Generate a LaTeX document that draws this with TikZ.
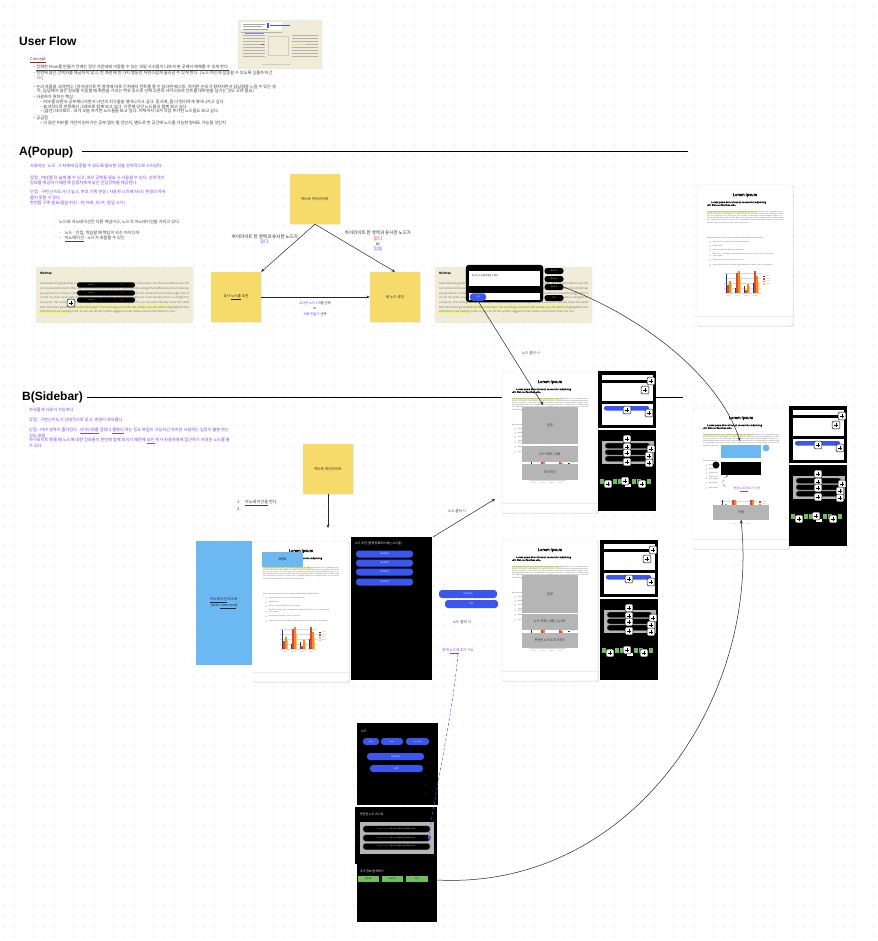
\documentclass[tikz,border=0pt]{standalone}
\usepackage{fontspec}
\setmainfont{Noto Sans CJK KR}[AutoFakeBold=2]
\newfontfamily\hdfont{Liberation Sans}
\usetikzlibrary{arrows.meta,shadows}
\definecolor{sticky}{HTML}{F7DB6A}
\definecolor{beige}{HTML}{F1ECD8}
\definecolor{purp}{HTML}{7A45E0}
\definecolor{kblue}{HTML}{3A56EC}
\definecolor{lblue}{HTML}{6CB8F2}
\definecolor{gbox}{HTML}{B5B5B5}
\definecolor{ggreen}{HTML}{6EBE5C}
\definecolor{hl}{HTML}{F2F09A}
\definecolor{kred}{HTML}{E0392B}
\definecolor{cdb}{HTML}{1F3C88}
\definecolor{cor}{HTML}{F08A24}
\definecolor{cye}{HTML}{F7C948}
\definecolor{cre}{HTML}{E1452B}
\definecolor{ctitle}{HTML}{8B2323}
\newcommand\fsz[2]{\fontsize{#1}{#2}\selectfont}
\newcommand\lipsumtxt{Lorem ipsum dolor sit amet, consectetur adipiscing elit. Nunc ac faucibus odio. Vestibulum neque massa, scelerisque sit amet ligula eu, congue molestie mi. Praesent ut varius sem. Nullam at porttitor arcu, nec lacinia nisi. Ut ac dolor vitae odio interdum condimentum. Vivamus dapibus sodales ex, vitae malesuada ipsum cursus convallis. Maecenas sed egestas nulla, ac condimentum orci. Mauris diam felis, vulputate ac suscipit et, iaculis non est. Curabitur semper arcu ac ligula semper, nec luctus nisl blandit. Integer lacinia ante ac libero lobortis imperdiet.}
\newcommand\mindtxt{Automatically generating a mindmap is crucial for me to read through the document, but the annotations are still not connected to each other, and I am still stuck just like before. If you cannot arrange them effectively, the mindmap you generate is simply a mess. On second thought, with my notes and cards still scattered around the pages, this is in fact my main issue with reading papers for a long time. So it has brought out a functionality that is a delight for everyone: the cards generate mindmaps. There are three methods by which you can automatically insert the cards that have been generated into the mindmaps. You can drag a card onto the canvas, you can select a highlighted area and link it to an existing node, or you can let the system suggest similar nodes and connect them for you.}
\tikzset{
 tx/.style={inner sep=0pt, anchor=west, font=\fsz{4.2}{5}, text=black!75},
 ptx/.style={tx, text=purp},
 stickynote/.style={fill=sticky, minimum width=50pt, minimum height=50pt, inner sep=1pt, align=center, font=\fsz{3.6}{4.6}, text=black!85, drop shadow={opacity=0.15, shadow xshift=0.5pt, shadow yshift=-0.8pt}},
 arr/.style={-{Stealth[length=3.5pt,width=2.8pt]}, line width=0.5pt, black!85},
 bpill/.style={fill=kblue, rounded corners=3pt, inner sep=0pt, font=\fsz{2}{2.5}, text=white},
 kpill/.style={fill=black, rounded corners=2.6pt, inner sep=0pt, font=\fsz{1.7}{2}, text=white},
 gpill/.style={fill=ggreen, inner sep=0pt, font=\fsz{1.8}{2}, text=black},
 dotgrid/.style={line width=1.3pt, dash pattern=on 0pt off 10pt, line cap=round, black!20},
 greybox/.style={fill=gbox, inner sep=0pt, font=\fsz{3.2}{4}, text=black!80},
 heading/.style={inner sep=0pt, anchor=west, font=\hdfont\bfseries\fsz{12}{13}},
 wt/.style={inner sep=0pt, anchor=west, font=\fsz{3}{3.6}, text=white},
 flowlab/.style={inner sep=0pt, align=center, font=\fsz{4.5}{5.3}, text=black!85},
}
\newcommand\plusat[1]{\begin{scope}[shift={(#1)}]\filldraw[fill=white,draw=black,line width=0.5pt,rounded corners=1pt] (-3.8,-3.8) rectangle (3.8,3.8);\draw[line width=0.6pt] (-2.3,0)--(2.3,0) (0,-2.3)--(0,2.3);\end{scope}}
\newcommand\docpage[1]{%
\begin{scope}[shift={(#1)}]
 \fill[black!9] (0.8,1.4) rectangle (96.8,142.4);
 \filldraw[fill=white, draw=black!12, line width=0.4pt, rounded corners=2.5pt] (0,0) rectangle (96,141);
 \draw[black!8] (0,131) -- (96,131);
 \node[inner sep=0pt, font=\bfseries\fsz{4}{4}] at (48,10) {Lorem ipsum};
 \node[inner sep=0pt, anchor=north west, align=left, font=\bfseries\fsz{2.3}{2.9}] at (10,16) {\hspace*{4pt}Lorem ipsum dolor sit amet, consectetur adipiscing\\elit. Nunc ac faucibus odio.};
 \fill[hl] (10,25.6) rectangle (60,27.6);
 \node[inner sep=0pt, anchor=north west, text width=76pt, align=justify, font=\fsz{1.6}{2.15}, text=black!70] at (10,25.8) {\lipsumtxt};
 \node[inner sep=0pt, anchor=west, font=\fsz{1.7}{2}, text=black!70] at (10,53) {Maecenas mauris lectus, lobortis et purus mattis, blandit dictum tellus.};
 \foreach \yy/\itm in {57/{Maecenas non lorem quis tellus placerat varius.}, 61/{Nulla facilisi.}, 65/{Aenean congue fringilla justo ut aliquam.}, 70/{Mauris id ex erat. Nunc vulputate neque vitae justo facilisis, non condimentum ante sagittis.}, 75/{Morbi viverra semper lorem nec molestie.}, 80/{Maecenas tincidunt est efficitur ligula euismod, sit amet ornare est vulputate.}}{
   \fill[black!70] (13,\yy) circle (0.5);
   \node[inner sep=0pt, anchor=west, font=\fsz{1.6}{2}, text=black!70, text width=62pt, align=left] at (16,\yy) {\itm};
 }
 \foreach \gy in {88,93,98,103,108} \draw[black!15, line width=0.2pt] (27,\gy) -- (64,\gy);
 \foreach \g/\a/\b/\c in {0/19/8/12, 1/5/20/22, 2/7/3/9, 3/10/22/17} {
   \fill[cdb] ({28.5+\g*9},108) rectangle ++(1.8,-\a);
   \fill[cre] ({30.3+\g*9},108) rectangle ++(1.8,-\b);
   \fill[cor] ({32.1+\g*9},108) rectangle ++(1.8,-\c);
   \fill[cye] ({33.9+\g*9},108) rectangle ++(1.2,{-0.5*\c-3});
   \node[inner sep=0pt, font=\fsz{1.4}{1.5}, text=black!60] at ({31.5+\g*9},111) {Item \g};
 }
 \foreach \k/\cc in {0/cdb,1/cre,2/cor,3/cye} {
   \fill[\cc] (66,{92+\k*2.5}) rectangle ++(1.5,-1.5);
   \node[inner sep=0pt, anchor=west, font=\fsz{1.3}{1.5}, text=black!60] at (68.5,{91.2+\k*2.5}) {Series \k};
 }
\end{scope}}
\newcommand\mindshot[1]{%
\begin{scope}[shift={(#1)}]
 \filldraw[fill=beige, draw=black!8, rounded corners=2pt] (0,0) rectangle (157,56);
 \fill[hl] (32,38.4) rectangle (134,42.4);
 \fill[hl] (3,43) rectangle (33,47);
 \node[inner sep=0pt, anchor=west, font=\bfseries\fsz{2.6}{3}, text=black!75] at (4,6) {Mindmap};
 \node[inner sep=0pt, anchor=north west, text width=149pt, align=justify, font=\fsz{2.8}{4.65}, text=black!55] at (4,15.5) {\mindtxt};
\end{scope}}
\newcommand\sidepanels[1]{%
\begin{scope}[shift={(#1)}]
 \fill[black] (0,0) rectangle (58,57);
 \fill[white] (4,4) rectangle (55,9);
 \fill[white] (4,12) rectangle (55,30);
 \fill[white] (4,33) rectangle (55,54);
 \fill[kblue, rounded corners=2pt] (6,35) rectangle (51,39.5);
 \plusat{53,10}\plusat{47,19}\plusat{29,39}\plusat{51,42}
 \fill[black] (0,59) rectangle (58,140);
 \fill[gbox] (4,70) rectangle (56,93);
 \foreach \yy in {72,78.5,85}{\filldraw[fill=black, draw=black!40, line width=0.3pt, rounded corners=2.5pt] (7,\yy) rectangle (52,\yy+5.5);}
 \plusat{29,68}\plusat{29,76}\plusat{29,82}\plusat{29,91}\plusat{53,78}\plusat{51,85}\plusat{51,92}
 \foreach \gx in {2,15,20,34,39,49}{\fill[ggreen] (\gx,108) rectangle (\gx+3.5,113);}
 \fill[white] (27,113) rectangle (33,116);
 \plusat{10,113}\plusat{27,110}\plusat{44,113}
\end{scope}}
\begin{document}
\begin{tikzpicture}[x=1pt,y=-1pt]
\useasboundingbox (0,0) rectangle (877,941);
\fill[white] (0,0) rectangle (877,941);
\foreach \yy in {6,16,...,936} \draw[dotgrid] (4,\yy) -- (877,\yy);

% ---------------- User Flow ----------------
\node[heading] (title) at (19,41) {User Flow};
\filldraw[fill=beige, draw=black!10, rounded corners=2pt] (238,20) rectangle (322,69);
\fill[white] (241,22) rectangle (282,30);
\draw[black!35, line width=0.4pt] (243,24) -- (265,24) (243,26.5) -- (262,26.5) (243,29) -- (268,29);
\fill[kblue] (267,23) rectangle (268.5,28);
\draw[kblue, line width=0.4pt] (270,25.5) -- (290,25.5);
\draw[black!30, line width=0.5pt] (241,32) -- (282,32);
\foreach \yy in {35,38,41,44,47,50,53,56} {\draw[black!30, line width=0.35pt] (243,\yy) -- (265,\yy) (292,\yy) -- (318,\yy);}
\fill[kblue!70] (245,33) rectangle (264,34.2);
\fill[kred] (261,44) rectangle (264,45.5);
\fill[hl!80!orange] (292,44) rectangle (306,45.5);
\draw[black!20] (268,36) rectangle (288,55);
\draw[black!20] (262,64) -- (290,64);

\node[tx, text=ctitle, font=\fsz{4}{4.5}] (concept) at (30,60) {\underline{Concept}};
\node[tx] (b1) at (33,68) {– \underline{정확한 Flow를 만들기 전에는 정단 가운데에 이동할 수 있는 모달 시스템이 나와서 본 곳에서 재해를 수 있게 한다.}};
\node[tx] (b2) at (33,73) {– 한번에 많은 선택지를 제공하지 않고, 한 화면에 한 가지 행동만 자연스럽게 흘러갈 수 있게 한다. [노드 하는데 집중할 수 있도록 심플하게 간};
\node[tx] (b2b) at (37,78) {다.]};
\node[tx] (b3) at (33,87) {– 논리 흐름을 고려한다. [하이라이트 한 영역에 바로 근처에서 컨트롤 할 수 있다면 베스트. 하지만 논리가 합쳐지면서 답답함을 느낄 수 있는 경};
\node[tx] (b3b) at (37,91.5) {우, 답답해서 많은 정보를 이동할 때 화면을 가리는 여유 등으로 인해 오른쪽 사이드바로 컨트롤 대부분을 넘기는 것도 고려 필요]};
\node[tx] (b4) at (33,96.5) {– 사용자가 원하는 핵심};
\node[tx] (b41) at (40,102) {– PDF를 보면서 공부해나가면서 나만의 지식들을 엮어나가고 싶다. 동시에, 좀 더 편리하게 엮어나가고 싶다.};
\node[tx] (b42) at (40,106.5) {– 효과적으로 연동해서 그래프로 함께 보고 싶다. 기존에 있던 노드들과 함께 엮고 싶다.};
\node[tx] (b43) at (40,111) {– (옵션) 대시보드 : 내가 오늘 추가한 노드들을 보고 싶다. 어제까지 내가 작업 추가한 노드들도 보고 싶다.};
\node[tx] (b5) at (33,118) {– 궁금점};
\node[tx] (b51) at (40,123) {– 이 많은 PDF를 가만히 읽어가는 공부 앱이 될 것인지, 별도로 한 공간에 노드를 가능한 형태도 가능할 것인지};

% ---------------- A(Popup) ----------------
\node[heading] (headA) at (19,152) {A(Popup)};
\coordinate (lineAend) at (688,151);
\draw[line width=0.7pt] (82,151) -- (lineAend);
\node[ptx] (pa1) at (30,166) {사용자는 ‘노드’ 그 자체에 집중할 수 있도록 필요한 것을 순차적으로 드러낸다.};
\node[ptx] (pa2) at (30,178) {장점 : PDF를 더 넓게 볼 수 있고, 좌우 공백을 필요 시 사용할 수 있다. 순차적인};
\node[ptx] (pa3) at (30,183) {정보를 제공하기 때문에 집중자에게 낮은 진입장벽을 제공한다.};
\node[ptx] (pa4) at (30,192) {단점 : 구현 난이도가 더 높고, 추후 기획 변경 ( 사용자 니즈에 따라 ) 편경의 자유};
\node[ptx] (pa5) at (30,197.5) {롭지 못할 수 있다.};
\node[ptx] (pa6) at (30,203) {한번쯤 구축 필요(팝업 위치 : 위/아래, 좌/우, 팝업 크기)};

\node[tx] (an1) at (59,222) {노드와 어노테이션은 다른 개념이고, 노드가 어노테이션을 가지고 있다.};
\node[tx] (an2) at (59,233) {-\hspace{3pt} 노드 : 인접, 학습할 때 핵심이 되는 아이디어.};
\node[tx] (an3) at (59,238.5) {-\hspace{3pt} \underline{어노테이션} : 노드가 포함할 수 있는};

\node[stickynote] (stTop) at (315,199) {텍스트 하이라이트};
\node[stickynote] (stLeft) at (236,297) {유사 \underline{노드를} 추천};
\node[stickynote] (stRight) at (395,297) {새 노드 생성};
\draw[arr] (stTop.south) -- (stLeft.north east);
\draw[arr] (stTop.south) -- (stRight.north);
\draw[arr] (stLeft.east) -- (stRight.west);
\node[flowlab] (labL) at (265,239) {하이라이트 한 영역과 유사한 노드가\\\textcolor{kblue}{있다.}};
\node[flowlab] (labR) at (378,241) {하이라이트 한 영역과 유사한 노드가\\\textcolor{kred}{없다}\\or\\\textcolor{kblue}{있음}};
\node[flowlab, font=\fsz{3.3}{5.3}] (labB) at (315,308.5) {\textcolor{kblue}{유사한 노드 1개}를 선택\\or\\\textcolor{kblue}{새로 만들기} 선택};

\mindshot{36,267}
\foreach \yy in {285,293,300} {\fill[black, rounded corners=2.5pt] (77,\yy-2.7) rectangle (135,\yy+2.7);
  \node[inner sep=0pt, font=\fsz{1.4}{1.5}, text=white] at (91,\yy) {text text};
  \node[inner sep=0pt, font=\fsz{1.4}{1.5}, text=kred!70] at (122,\yy) {text};}
\plusat{71,303}

\mindshot{435,267}
\filldraw[fill=black, rounded corners=3pt] (466,265) rectangle (543,302);
\fill[white] (469,271) rectangle (540,286);
\node[inner sep=0pt, anchor=west, font=\fsz{2.2}{2.5}] (poptxt) at (472,276) {유사한 노드를 선택할 수 있다.};
\fill[white] (469,293) rectangle (540,300);
\node[fill=kblue, rounded corners=3pt, minimum width=16pt, minimum height=7.5pt, inner sep=0pt, font=\fsz{1.8}{2}, text=white] (selbtn) at (478,297) {선택};
\node[kpill, minimum width=19pt, minimum height=6pt] (sp1) at (554,271) {유사 노드};
\node[kpill, minimum width=19pt, minimum height=6pt] (sp2) at (554,279) {유사 노드};
\node[kpill, minimum width=19pt, minimum height=6pt] (sp3) at (554,287) {유사 노드};
\node[kpill, minimum width=19pt, minimum height=6pt] (sp4) at (554,298) {추가};

\docpage{697,185}

% ---------------- B(Sidebar) ----------------
\node[heading] (headB) at (22,397) {B(Sidebar)};
\coordinate (lineBend) at (683,397);
\draw[line width=0.7pt] (87,397) -- (lineBend);
\node[ptx] (pb1) at (29,410) {자유롭게 사용이 가능하다.};
\node[ptx] (pb2) at (29,420) {장점 : 구현난이도가 상대적으로 낮고, 변경이 자유롭다.};
\node[ptx] (pb3) at (29,431) {단점 : PDF 영역이 좁아진다. \underline{사이드바를} 접었다 \underline{펼쳤다} 하는 등도 복잡이 가능하긴 하지만 사용하는 입장이 불편 하는};
\node[ptx] (pb4) at (29,435.8) {것도 바람.};
\node[ptx] (pb5) at (29,441) {하이라이트 했을 때 노드에 대한 정보들이 한번에 함께 보이기 때문에 \underline{낮은} 추가 사용자에게 접근하기 어려운 노드를 볼};
\node[ptx] (pb6) at (29,446) {수 있다.};

\node[stickynote] (stB) at (328,469) {텍스트 하이라이트};
\coordinate (sbdocTop) at (328,528);
\draw[arr] (stB.south) -- (sbdocTop);
\node[tx] (st1) at (237,503) {1.\hspace{3pt} \underline{어노테이션을} 한다.};
\node[tx] (st2) at (237,509) {2.};

\node[fill=lblue, minimum width=56pt, minimum height=124pt, inner sep=0pt, align=center, font=\fsz{3.6}{4.5}, text=black!85] (annList) at (224,603) {\underline{어노테이션} 리스트\\(with \underline{comment})};
\docpage{253,541}
\node[fill=lblue, minimum width=41pt, minimum height=15pt, inner sep=0pt, font=\fsz{3}{3}] (cmt) at (282.5,559.5) {코멘트};

\fill[black] (351,537) rectangle (432,680);
\node[wt] (recT) at (355,543.5) {노드 추천 (현재 등록되어 있는 노드들)};
\foreach \i/\yy in {1/554,2/563,3/572,4/582} {\node[bpill, minimum width=57pt, minimum height=7pt] (rec\i) at (384.5,\yy) {하이라이트};}
\coordinate (recCorner) at (433,537);

\node[bpill, minimum width=58pt, minimum height=8pt] (clk1) at (468,594) {하이라이트};
\node[bpill, minimum width=53pt, minimum height=8pt] (clk2) at (471.5,604) {제목};
\node[tx, anchor=center, font=\fsz{3.6}{4}] (clkL) at (462,622) {노드 클릭 시};
\node[ptx, anchor=center, font=\fsz{3.5}{4}] (addL) at (458,651) {현재 \underline{노드에} 추가 가능};

% right screens
\docpage{502,372}
\node[greybox, minimum width=56pt, minimum height=37pt] (s1a) at (550,425.5) {본문};
\node[greybox, minimum width=56pt, minimum height=16pt] (s1b) at (550,454) {노드 제목 / 내용};
\node[greybox, minimum width=56pt, minimum height=16pt] (s1c) at (550,472) {제거하기};
\sidepanels{598,371}

\docpage{502,540}
\node[greybox, minimum width=56pt, minimum height=38pt] (s2a) at (550,594) {본문};
\node[greybox, minimum width=56pt, minimum height=16pt] (s2b) at (550,621.5) {노드 제목 | 내용 | 유사도};
\node[greybox, minimum width=56pt, minimum height=15pt] (s2c) at (550,640.5) {연관된 노드로 추가하기};
\sidepanels{600,540}

\docpage{693,408}
\fill[white] (718,443) rectangle (773,500);
\fill[lblue] (721,445) rectangle (761,458);
\fill[lblue] (766,448) circle (3.5);
\fill[black] (721,462) rectangle (761,475);
\fill[black] (716,465) circle (3.5);
\draw[purp, densely dashed, line width=0.4pt] (727,476) .. controls (721,480) and (722,485) .. (726,487);
\fill[purp] (727,476) circle (0.8);
\node[ptx, anchor=center, font=\fsz{3}{3.5}] (s3add) at (747,489) {현재 \underline{노드에} 추가 가능};
\node[greybox, minimum width=56pt, minimum height=15pt] (s3all) at (741,512) {전체};
\node[inner sep=0pt, font=\fsz{1.4}{1.5}, text=black!50] (s3foot) at (741,524) {Item\quad Item\quad Item\quad Item};
\sidepanels{789,406}

% bottom panels
\fill[black] (357,723) rectangle (438,805);
\node[wt] (nodeT) at (361,731) {노드};
\node[bpill, minimum width=16pt, minimum height=7pt, font=\fsz{1.6}{2}] (nb1) at (371,741.5) {제목1};
\node[bpill, minimum width=22pt, minimum height=7pt, font=\fsz{1.6}{2}] (nb2) at (392,741.5) {제목2};
\node[bpill, minimum width=23pt, minimum height=7pt, font=\fsz{1.6}{2}] (nb3) at (417.5,741.5) {노드의 정보};
\node[bpill, minimum width=57pt, minimum height=7pt] (nb4) at (395.5,756.5) {하이라이트};
\node[bpill, minimum width=53pt, minimum height=7pt] (nb5) at (396.5,768.5) {제목};
\foreach \yy in {775,785,794} \fill[kred!70] (425,\yy) circle (0.4);
\fill[black] (355,807) rectangle (437,864);
\node[wt] (relT) at (360,814.5) {연관된 노드 리스트};
\fill[gbox] (360,822) rectangle (434,854);
\foreach \i/\yy in {1/829,2/838,3/846.5} {\node[kpill, draw=black!45, line width=0.3pt, minimum width=67pt, minimum height=6.5pt, font=\fsz{1.5}{1.6}] (rl\i) at (396.5,\yy) {\textcolor{kred!70}{wrapper(card) 1} / 어떤 노드와 관계되는 (관계 종류) (유사도)};}
\fill[purp] (427.5,835.5) rectangle (430.5,838.5);
\coordinate (purpEnd) at (429,837);
\fill[black] (357,862) rectangle (437,922);
\node[wt] (expT) at (360,871) {추가 정보 탐색하기};
\node[gpill, minimum width=21pt, minimum height=6.5pt] (g1) at (368.5,879) {연관 찾기};
\node[gpill, minimum width=21pt, minimum height=6.5pt] (g2) at (392.5,879) {유사 찾기};
\node[gpill, minimum width=22pt, minimum height=6.5pt] (g3) at (417,879) {요약};
\coordinate (panelEdge) at (437,880);

% connectors
\coordinate (s1hit) at (543,405);
\coordinate (s3hit) at (740,441);
\coordinate (s1left) at (495,499);
\draw[arr] (selbtn.south) -- (s1hit);
\node[tx, anchor=center, font=\fsz{3.5}{4}] (clkA) at (531,353) {노드 클릭 시};
\draw[arr] (sp3.east) .. controls (650,320) and (720,380) .. (s3hit);
\draw[arr] (recCorner) -- (s1left);
\node[tx, anchor=center, font=\fsz{3.5}{4}] (clkB) at (457,511) {노드 클릭 시};
\draw[purp, densely dashed, line width=0.5pt] (addL.south) .. controls (452,720) and (435,790) .. (purpEnd);
\draw[arr] (panelEdge) .. controls (630,890) and (760,700) .. (s3all.south);
\end{tikzpicture}
\end{document}
